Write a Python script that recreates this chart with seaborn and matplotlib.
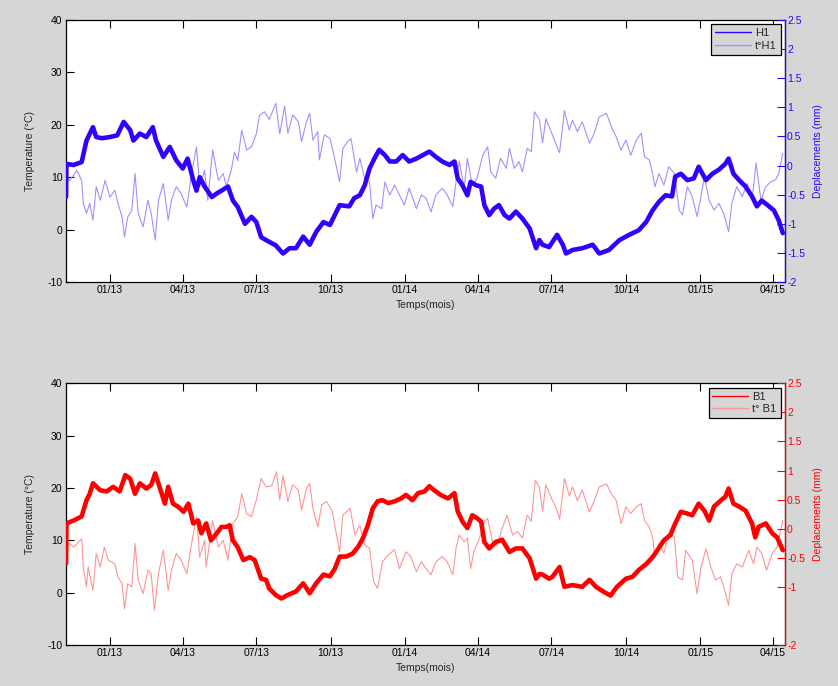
import numpy as np
import pandas as pd
import matplotlib
matplotlib.use("Agg")
import matplotlib.pyplot as plt
import matplotlib.dates as mdates
from matplotlib.ticker import FuncFormatter, FixedLocator
from matplotlib.lines import Line2D
import seaborn as sns

# ---------------- data (days counted from 2013-01-01) ----------------
BASE_DATE = "2013-01-01"
X_START_DAY, X_END_DAY = -54.3, 834.8

# top panel: displacement H1 (mm, right axis)
h1_days = [-54.3, -53.8, -45, -35, -29, -21, -17, -10, 0, 9,
           17, 25, 29, 37, 45, 53, 57, 66, 74, 82,
           90, 96, 103, 107, 111, 117, 126, 132, 138, 146,
           152, 158, 167, 175, 181, 187, 193, 197, 205, 214,
           222, 230, 239, 247, 255, 264, 272, 278, 284, 296,
           302, 309, 315, 321, 327, 333, 340, 346, 354, 362,
           370, 379, 387, 395, 403, 411, 420, 426, 430, 436,
           442, 446, 453, 459, 463, 469, 475, 481, 488, 494,
           502, 510, 519, 527, 531, 535, 543, 553, 560, 564,
           572, 584, 597, 605, 617, 630, 642, 654, 663, 671,
           679, 687, 695, 699, 706, 714, 722, 728, 737, 745,
           753, 761, 765, 771, 778, 786, 794, 800, 806, 815,
           821, 827, 832]
h1_mm = [-0.54, 0.03, 0.01, 0.06, 0.43, 0.66, 0.49, 0.47, 0.49, 0.52,
         0.75, 0.61, 0.43, 0.55, 0.49, 0.66, 0.43, 0.15, 0.32, 0.09,
         -0.05, 0.12, -0.25, -0.43, -0.20, -0.36, -0.54, -0.48, -0.43, -0.36,
         -0.60, -0.71, -1.00, -0.88, -0.97, -1.23, -1.28, -1.31, -1.37, -1.51,
         -1.42, -1.42, -1.22, -1.36, -1.14, -0.97, -1.02, -0.85, -0.68, -0.70,
         -0.56, -0.51, -0.34, -0.05, 0.12, 0.27, 0.18, 0.07, 0.07, 0.18,
         0.07, 0.12, 0.18, 0.24, 0.15, 0.07, 0.01, 0.07, -0.22, -0.34,
         -0.51, -0.28, -0.34, -0.36, -0.68, -0.85, -0.74, -0.68, -0.85, -0.91,
         -0.79, -0.91, -1.08, -1.42, -1.28, -1.36, -1.40, -1.19, -1.36, -1.51,
         -1.45, -1.42, -1.36, -1.51, -1.45, -1.28, -1.19, -1.11, -0.97, -0.77,
         -0.62, -0.51, -0.53, -0.19, -0.14, -0.25, -0.22, -0.02, -0.25, -0.14,
         -0.07, 0.03, 0.12, -0.14, -0.25, -0.36, -0.53, -0.70, -0.60, -0.70,
         -0.77, -0.94, -1.16]

# top panel: temperature t°H1 (°C, left axis)
th1_days = [-54.3, -53.8, -50, -45, -41, -35, -33, -29, -25, -21,
            -17, -12, -6, 0, 6, 10, 15, 18, 22, 27,
            31, 35, 41, 47, 51, 56, 60, 66, 72, 76,
            82, 88, 95, 101, 107, 111, 117, 121, 127, 134,
            140, 144, 150, 154, 158, 163, 169, 175, 181, 185,
            191, 197, 205, 210, 216, 220, 226, 233, 237, 243,
            247, 251, 257, 259, 265, 272, 276, 284, 288, 294,
            298, 305, 309, 315, 321, 325, 329, 336, 340, 346,
            352, 358, 364, 370, 379, 385, 391, 397, 403, 411,
            417, 424, 428, 432, 438, 442, 448, 454, 461, 467,
            471, 477, 483, 490, 494, 500, 506, 510, 516, 521,
            525, 531, 535, 539, 546, 552, 556, 562, 568, 572,
            578, 584, 593, 599, 605, 614, 620, 626, 632, 638,
            644, 651, 657, 661, 667, 671, 674, 679, 685, 691,
            698, 704, 708, 714, 720, 726, 730, 735, 741, 747,
            753, 759, 765, 769, 775, 782, 788, 794, 799, 805,
            811, 817, 823, 827, 832]
th1_temp = [0, 10, 9.4, 10.4, 11.3, 9.4, 5, 3.1, 5, 1.8,
            8.2, 5.6, 9.4, 6.2, 7.5, 5, 2.4, -1.4, 2.4, 3.7,
            10.7, 3.1, 0.5, 5.6, 3.1, -2, 5.6, 8.8, 1.8, 5.6,
            8.2, 6.9, 4.3, 10.7, 15.8, 8.2, 11.3, 5.6, 15.2, 9.4,
            10.7, 8.2, 11.3, 14.8, 13.2, 19, 15.2, 15.8, 18.3, 21.8,
            22.5, 21, 24.1, 18.3, 23.6, 18.4, 21.9, 20.6, 16.8, 20.6,
            22.2, 17.1, 18.7, 13.3, 18.1, 17.4, 14.9, 9.1, 15.5, 16.8,
            17.4, 11, 13.6, 9.8, 9.1, 2.1, 4.7, 4, 9.1, 6.6,
            8.5, 6.6, 4.7, 7.9, 4, 6.6, 6, 3.4, 6.6, 7.9,
            6.6, 4.4, 9.1, 13, 7.9, 13.6, 8.5, 9.8, 14.2, 15.8,
            11, 9.8, 13.6, 11.7, 15.5, 11.7, 13, 11, 15.5, 14.9,
            22.5, 21, 16.6, 21.2, 18.5, 16.1, 14.7, 22.7, 19, 20.9,
            18.7, 20.6, 16.5, 18.4, 21.5, 22.2, 19.6, 17.7, 15.2, 17.1,
            14.2, 17.1, 18.4, 13.9, 13.3, 10.7, 8.2, 10.7, 8.5, 12,
            10.7, 3.7, 2.8, 8.2, 6.3, 2.5, 5.6, 10.1, 5.6, 3.7,
            5, 3.1, -0.4, 5, 8.2, 6.3, 8.8, 5.6, 12.7, 5.6,
            8.2, 9.1, 9.5, 10.7, 14.6]

# bottom panel: displacement B1 (mm, right axis)
b1_days = [-54.3, -53.8, -45, -35, -29, -25, -21, -12, -4, 4,
           12, 19, 25, 31, 37, 45, 51, 56, 62, 68,
           72, 78, 84, 91, 97, 103, 109, 113, 119, 125,
           132, 138, 144, 148, 152, 158, 165, 173, 179, 187,
           193, 197, 205, 212, 220, 230, 239, 247, 255, 264,
           272, 278, 284, 292, 300, 307, 313, 319, 325, 331,
           337, 344, 352, 360, 366, 374, 381, 389, 395, 401,
           409, 418, 426, 430, 436, 442, 448, 454, 459, 463,
           469, 477, 485, 494, 502, 510, 519, 527, 531, 535,
           543, 547, 556, 562, 572, 584, 593, 601, 611, 619,
           627, 638, 646, 654, 663, 671, 677, 685, 693, 699,
           706, 714, 720, 728, 735, 741, 747, 755, 761, 765,
           771, 778, 786, 794, 798, 802, 811, 819, 825, 832]
b1_mm = [-0.60, 0.09, 0.14, 0.21, 0.49, 0.60, 0.78, 0.66, 0.64, 0.72,
         0.64, 0.92, 0.86, 0.60, 0.78, 0.69, 0.75, 0.95, 0.69, 0.43,
         0.72, 0.43, 0.38, 0.29, 0.43, 0.09, 0.14, -0.08, 0.09, -0.20,
         -0.08, 0.03, 0.03, 0.06, -0.20, -0.32, -0.54, -0.49, -0.54, -0.86,
         -0.88, -1.03, -1.14, -1.20, -1.14, -1.08, -0.94, -1.11, -0.94, -0.79,
         -0.82, -0.69, -0.48, -0.48, -0.43, -0.31, -0.16, 0.06, 0.35, 0.47,
         0.49, 0.44, 0.47, 0.52, 0.58, 0.49, 0.61, 0.64, 0.73, 0.66,
         0.58, 0.52, 0.61, 0.30, 0.12, 0.01, 0.23, 0.18, 0.12, -0.23,
         -0.34, -0.23, -0.19, -0.40, -0.34, -0.34, -0.51, -0.86, -0.78, -0.79,
         -0.86, -0.83, -0.66, -1.00, -0.97, -1.00, -0.88, -1.00, -1.09, -1.15,
         -1.00, -0.86, -0.83, -0.71, -0.61, -0.49, -0.37, -0.20, -0.11, 0.09,
         0.29, 0.26, 0.23, 0.43, 0.31, 0.14, 0.38, 0.48, 0.55, 0.69,
         0.43, 0.38, 0.31, 0.09, -0.15, 0.03, 0.09, -0.08, -0.15, -0.37]

# bottom panel: temperature t°B1 (°C, left axis)
tb1_days = [-54.3, -53.8, -50, -45, -35, -33, -29, -27, -21, -17,
            -12, -7, -2, 6, 10, 15, 18, 22, 27, 31,
            35, 41, 47, 51, 55, 60, 66, 72, 76, 82,
            88, 95, 101, 107, 111, 117, 119, 127, 134, 140,
            146, 152, 158, 163, 169, 175, 181, 187, 193, 200,
            206, 210, 214, 220, 226, 233, 237, 243, 247, 251,
            257, 262, 268, 275, 284, 288, 297, 303, 309, 315,
            321, 326, 331, 337, 344, 352, 358, 366, 372, 379,
            385, 391, 397, 403, 411, 417, 424, 428, 432, 438,
            442, 446, 450, 457, 463, 467, 473, 479, 485, 491,
            498, 504, 510, 516, 521, 526, 531, 535, 539, 546,
            552, 556, 562, 568, 572, 578, 584, 593, 599, 605,
            614, 620, 626, 632, 638, 644, 651, 657, 661, 667,
            671, 674, 679, 685, 691, 698, 702, 708, 712, 720,
            726, 731, 737, 743, 749, 755, 759, 765, 769, 775,
            782, 790, 796, 800, 806, 812, 819, 825, 832]
tb1_temp = [0, 8.7, 9.4, 8.7, 10.3, 4.9, 1.1, 4.9, 0.4, 7.5,
            4.9, 8.7, 6.2, 5.5, 3, 1.7, -3.1, 1.7, 1.1, 9.4,
            2.4, -0.2, 4.3, 3.6, -3.4, 3.6, 8.1, 0.4, 4.3, 7.5,
            6.2, 3.6, 9.4, 14.5, 6.8, 10, 4.9, 13.8, 8.7, 10,
            6.2, 13.2, 14.5, 18.9, 15.1, 14.5, 17.7, 21.8, 20.2, 20.4,
            23.1, 17.7, 22.4, 17.4, 20.6, 19.6, 15.8, 19.9, 20.9, 16.1,
            12.6, 16.8, 17.4, 15.5, 7.8, 14.8, 16.1, 11, 12.9, 9.1,
            8.5, 2.1, 0.8, 5.9, 7.2, 8.2, 4.6, 7.8, 6.9, 4,
            5.9, 4.6, 3.4, 5.9, 6.9, 5.9, 3.4, 8.5, 11, 9.7,
            10.4, 4.6, 7.8, 10.4, 13.6, 14.2, 9.7, 9.1, 12.3, 14.8,
            11, 11.7, 10.4, 14.8, 13.6, 21.5, 20.2, 15.6, 20.6, 18,
            16.1, 14, 21.8, 18.5, 20.2, 17.6, 19.6, 15.4, 17.6, 20.2,
            20.8, 18.9, 17.6, 13.2, 16.4, 15.1, 16.4, 17, 13.8, 12.5,
            10.6, 6.8, 9.4, 7.5, 11.3, 10.6, 3, 2.4, 8.1, 6.2,
            -0.2, 4.9, 8.4, 4.9, 2.4, 3, 1.1, -2.4, 3.6, 5.5,
            4.9, 8.1, 5.5, 8.7, 7.5, 4.3, 7.5, 8.7, 13.8]

TEMP_TICKS = [-10, 0, 10, 20, 30, 40]
TOP_MM_TICKS = [-2, -1.5, -1, -0.5, 0, 0.5, 1, 1.5, 2, 2.5]
BOT_MM_TICKS = [-2, -1, -0.5, 0, 0.5, 1, 1.5, 2, 2.5]

# ---------------- style ----------------
sns.set_theme(style="white")
plt.rcParams["font.family"] = ["Liberation Sans", "DejaVu Sans"]
plt.rcParams["axes.unicode_minus"] = False

BG = "#d6d6d6"
FS = 7.5


def to_df(days, vals):
    assert len(days) == len(vals), (len(days), len(vals))
    t = pd.Timestamp(BASE_DATE) + pd.to_timedelta(np.asarray(days, float), unit="D")
    return pd.DataFrame({"t": t, "v": vals})


fig = plt.figure(figsize=(8.38, 6.86), dpi=100, facecolor=BG)

panels = [
    dict(rect=[0.0788, 0.5889, 0.858, 0.3819], disp=(h1_days, h1_mm), temp=(th1_days, th1_temp),
         dark="#3300ff", light="#9d92ff", names=("H1", "t°H1"), mmticks=TOP_MM_TICKS),
    dict(rect=[0.0788, 0.0598, 0.858, 0.3815], disp=(b1_days, b1_mm), temp=(tb1_days, tb1_temp),
         dark="#ff0000", light="#ff9494", names=("B1", "t° B1"), mmticks=BOT_MM_TICKS),
]

x0 = pd.Timestamp(BASE_DATE) + pd.Timedelta(days=X_START_DAY)
x1 = pd.Timestamp(BASE_DATE) + pd.Timedelta(days=X_END_DAY)

for p in panels:
    ax = fig.add_axes(p["rect"])
    ax.set_facecolor("white")
    dft = to_df(*p["temp"])
    sns.lineplot(data=dft, x="t", y="v", ax=ax, color=p["light"], linewidth=0.8,
                 estimator=None, sort=False, legend=False)
    ax.set_ylim(-10, 40)
    ax.set_xlim(x0, x1)
    ax.yaxis.set_major_locator(FixedLocator(TEMP_TICKS))
    ax.xaxis.set_major_locator(mdates.MonthLocator(bymonth=[1, 4, 7, 10]))
    ax.xaxis.set_major_formatter(mdates.DateFormatter("%m/%y"))
    ax.tick_params(axis="both", which="both", direction="in", length=5.5, width=0.8,
                   colors="black", labelsize=FS, top=True, right=True, bottom=True, left=True,
                   pad=2.5)
    ax.set_ylabel("Temperature (°C)", fontsize=FS, labelpad=9)
    ax.set_xlabel("Temps(mois)", fontsize=FS, labelpad=3)
    for s in ax.spines.values():
        s.set_color("black")
        s.set_linewidth(0.9)

    ax2 = ax.twinx()
    dfd = to_df(*p["disp"])
    sns.lineplot(data=dfd, x="t", y="v", ax=ax2, color=p["dark"], linewidth=3.3,
                 estimator=None, sort=False, legend=False)
    ax2.set_ylim(-2, 2.5)
    ax2.set_xlim(x0, x1)
    ax2.yaxis.set_major_locator(FixedLocator(p["mmticks"]))
    ax2.yaxis.set_major_formatter(FuncFormatter(lambda v, _: f"{v:g}"))
    ax2.tick_params(axis="y", direction="in", length=5.5, width=0.8, colors=p["dark"],
                    labelsize=FS, pad=1.5, left=False, right=True)
    ax2.set_ylabel("Deplacements (mm)", fontsize=FS, color=p["dark"], labelpad=6)
    for name in ["left", "top", "bottom"]:
        ax2.spines[name].set_visible(False)
    ax2.spines["right"].set_color(p["dark"])
    ax2.spines["right"].set_linewidth(0.9)
    ax2.grid(False)
    ax.grid(False)

    handles = [Line2D([], [], color=p["dark"], lw=1.0), Line2D([], [], color=p["light"], lw=1.0)]
    leg = ax2.legend(handles, list(p["names"]), loc="upper right", fontsize=FS + 0.5,
                     frameon=True, fancybox=False, framealpha=1, facecolor=BG,
                     edgecolor="black", borderpad=0.35, handlelength=3.2, handletextpad=0.4,
                     labelspacing=0.25, borderaxespad=0.4)
    leg.get_frame().set_linewidth(0.9)

fig.savefig("out.png", dpi=100, facecolor=BG)
